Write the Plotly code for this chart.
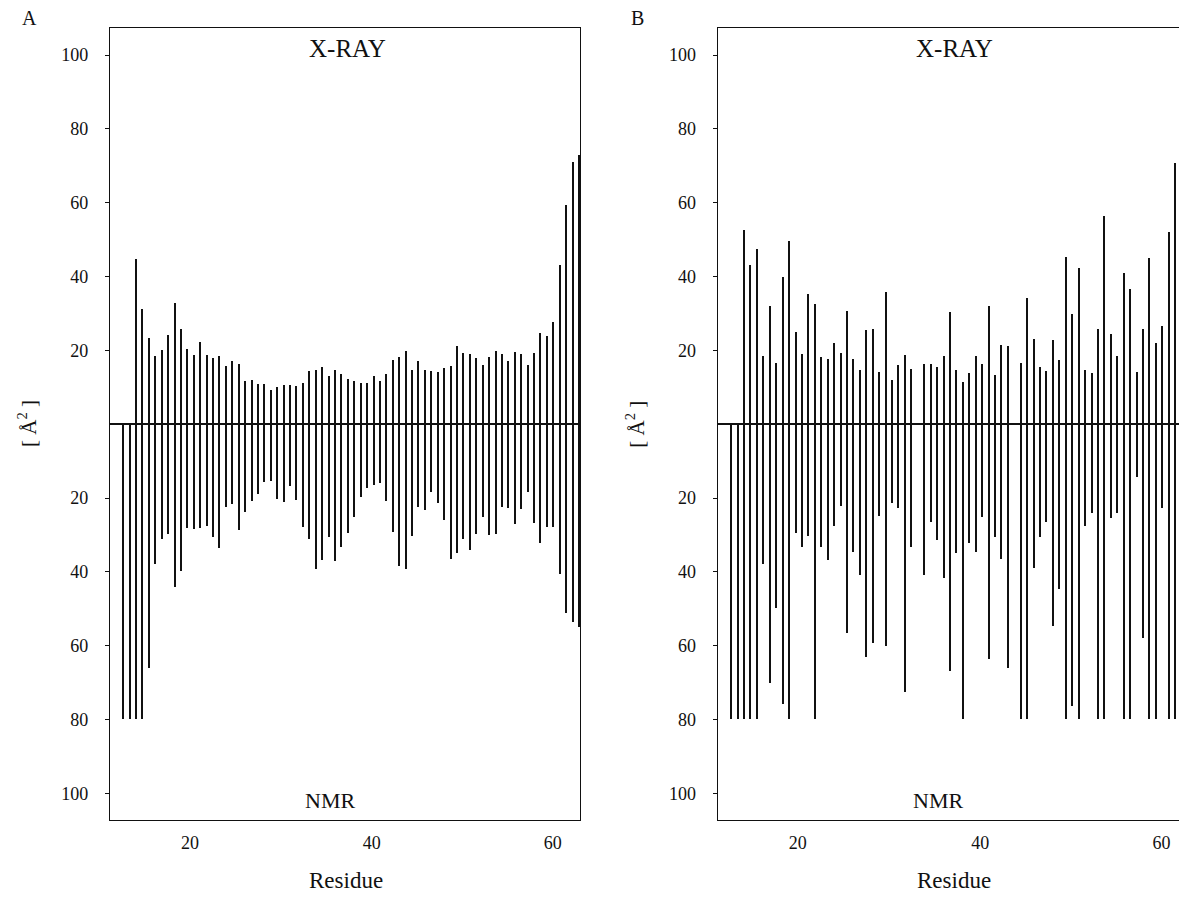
import plotly.graph_objects as go

# ---------------- data ----------------
residues_a = list(range(1, 73))
xray_a = [None, None, 44.8, 31.2, 23.4, 18.6, 20.1, 24.2, 32.8, 25.8,
          20.5, 18.8, 22.2, 18.7, 17.9, 18.5, 15.7, 17.2, 16.2, 11.7,
          12.0, 11.0, 10.8, 9.3, 10.2, 10.5, 10.6, 10.4, 11.2, 14.4,
          14.8, 15.4, 13.1, 14.7, 13.6, 12.3, 11.6, 11.1, 11.1, 13.0,
          11.7, 13.5, 17.3, 18.3, 19.8, 14.7, 17.2, 14.7, 14.3, 14.2,
          15.1, 15.8, 21.2, 19.4, 19.1, 17.9, 16.1, 18.2, 19.8, 19.0,
          17.2, 19.6, 18.9, 16.1, 19.2, 24.7, 24.0, 27.6, 43.2, 59.4,
          71.1, 73.0]
nmr_a = [80, 80, 80, 80, 66.1, 37.9, 31.1, 29.8, 44.2, 39.8,
         28.0, 28.4, 28.0, 27.7, 30.5, 33.6, 22.4, 21.7, 28.6, 23.9,
         20.9, 18.8, 15.6, 15.5, 20.2, 21.1, 16.7, 20.6, 27.9, 31.0,
         39.3, 36.9, 30.5, 37.1, 33.2, 29.5, 25.1, 19.8, 17.3, 16.4,
         16.0, 20.9, 29.3, 38.5, 39.3, 30.4, 22.5, 23.2, 18.3, 21.4,
         26.0, 36.5, 34.8, 31.2, 34.1, 29.8, 25.2, 30.0, 29.7, 22.5,
         22.8, 27.0, 23.0, 18.4, 26.7, 32.1, 27.9, 27.9, 40.7, 51.1,
         53.7, 55.0]

residues_b = list(range(1, 71))
xray_b = [None, None, 52.6, 43.2, 47.4, 18.4, 32.0, 16.6, 40.0, 49.6,
          25.0, 19.1, 35.3, 32.6, 18.2, 17.7, 22.1, 19.3, 30.7, 17.7,
          14.6, 25.5, 25.7, 14.2, 35.9, 11.9, 16.0, 18.7, 15.0, None,
          16.3, 16.3, 15.5, 18.5, 30.5, 14.7, 11.5, 13.8, 18.4, 16.3,
          31.9, 13.2, 21.5, 21.1, None, 16.5, 34.1, 23.0, 15.6, 14.4,
          22.9, 17.3, 45.4, 29.8, 42.3, 14.8, 13.8, 25.8, 56.4, 24.5,
          18.4, 41.0, 36.6, 14.2, 25.8, 44.9, 22.0, 26.6, 52.0, 70.9]
nmr_b = [80, 80, 80, 80, 80, 37.9, 70.0, 49.9, 75.9, 80,
         29.5, 33.3, 30.2, 80, 33.3, 36.8, 27.5, 22.3, 56.7, 34.7,
         40.8, 63.1, 59.3, 24.8, 60.0, 21.4, 22.7, 72.5, 33.4, None,
         40.9, 26.6, 31.4, 41.6, 66.8, 35.0, 80, 32.1, 34.7, 25.1,
         63.7, 30.6, 36.6, 66.1, None, 80, 80, 39.0, 30.6, 26.5,
         54.6, 44.7, 80, 76.3, 80, 27.7, 24.1, 80, 80, 25.3,
         24.1, 80, 80, 14.2, 57.8, 80, 80, 22.8, 80, 80]

y_tick_values = [100, 80, 60, 40, 20, -20, -40, -60, -80, -100]
y_tick_labels = ["100", "80", "60", "40", "20", "20", "40", "60", "80", "100"]
x_tick_labels = ["20", "40", "60"]

# ---------------- layout helpers ----------------
W, H = 1179, 909
FONT = "Liberation Serif, Times New Roman, serif"
INK = "#111111"


def px(x):
    return x / W


def py(y):
    return 1 - y / H


def neg(vals):
    return [None if v is None else -v for v in vals]


fig = go.Figure()

panels = [
    dict(res=residues_a, xray=xray_a, nmr=nmr_a, xa="x", ya="y"),
    dict(res=residues_b, xray=xray_b, nmr=nmr_b, xa="x2", ya="y2"),
]
for p in panels:
    for vals in (p["xray"], neg(p["nmr"])):
        fig.add_trace(go.Bar(
            x=p["res"], y=vals, base=0, width=0.2,
            marker=dict(color=INK, line=dict(width=0)),
            xaxis=p["xa"], yaxis=p["ya"], showlegend=False,
            hoverinfo="skip",
        ))

top, bottom = 28, 820
yr = [-107.25, 107.35]
x_tick_pos = [11.38, 39.72, 67.9]

common_x = dict(
    showgrid=False, zeroline=False, showline=True, linecolor=INK, linewidth=1.3,
    mirror=True, ticks="", tickmode="array", tickvals=x_tick_pos, ticktext=x_tick_labels,
    tickfont=dict(family=FONT, size=18, color=INK), ticklabelstandoff=6,
)
common_y = dict(
    showgrid=False, zeroline=True, zerolinecolor=INK, zerolinewidth=1.6,
    showline=True, linecolor=INK, linewidth=1.3,
    ticks="outside", ticklen=4, tickwidth=1.2, tickcolor=INK,
    tickmode="array", tickvals=y_tick_values, ticktext=y_tick_labels,
    tickfont=dict(family=FONT, size=18, color=INK), ticklabelstandoff=13,
    range=yr, domain=[py(bottom), py(top)],
)

fig.update_layout(
    width=W, height=H, margin=dict(l=0, r=0, t=0, b=0),
    paper_bgcolor="white", plot_bgcolor="white", barmode="overlay",
    bargap=0, showlegend=False,
    xaxis=dict(common_x, domain=[px(110), px(580)], range=[-1.07, 72.14], anchor="y"),
    yaxis=dict(common_y, anchor="x", mirror=True),
    xaxis2=dict(common_x, domain=[px(717.7), 1.0], range=[-1.07, 70.62], anchor="y2"),
    yaxis2=dict(common_y, anchor="x2", mirror=False),
)

ann = []


def label(text, x, y, size, angle=0):
    ann.append(dict(text=text, x=px(x), y=py(y), xref="paper", yref="paper",
                    showarrow=False, xanchor="center", yanchor="middle",
                    textangle=angle, font=dict(family=FONT, size=size, color=INK)))


for dx, name in ((0, "A"), (607.7, "B")):
    label(name, 30 + dx, 18, 20)
    label("X-RAY", 347 + dx, 49, 25)
    label("NMR", 330 + dx, 800, 22)
    label("Residue", 346 + dx, 880, 23)
    label("[ Å<sup>2</sup> ]", 28 + dx, 424, 21, angle=-90)

fig.update_layout(annotations=ann)
fig.write_html(
    "out.html",
    config={"displayModeBar": False},
    post_script="document.body.style.margin='0';document.body.style.overflow='hidden';",
)
